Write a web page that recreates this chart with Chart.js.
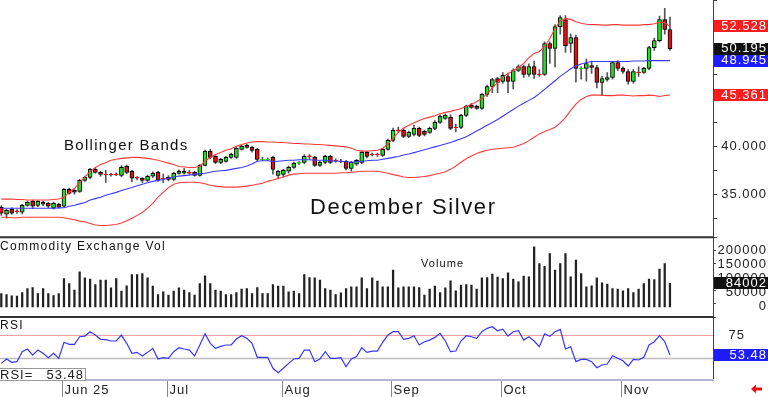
<!DOCTYPE html>
<html><head><meta charset="utf-8">
<script src="https://cdn.jsdelivr.net/npm/chart.js@4.4.1/dist/chart.umd.min.js"></script>
<style>html,body{margin:0;padding:0;background:#fff;overflow:hidden}canvas{display:block}</style>
</head><body>
<canvas id="c" width="768" height="397"></canvas>
<script>
// ---------- data ----------
const monthLabels = ['Jun 25','Jul','Aug','Sep','Oct','Nov'];
const monthStartIdx = [12,32,54,75,96,119];

const opens = [33.65,32.92,33.44,33.28,33.13,33.85,34.27,33.85,34.17,34.06,33.55,33.96,33.75,35.52,35.42,35.31,36.46,36.77,37.60,37.29,37.12,37.12,37.12,36.98,37.92,37.40,36.77,36.67,36.46,36.88,37.29,36.70,36.77,36.56,37.19,37.20,37.29,37.29,36.98,38.02,39.48,38.96,38.33,38.44,38.85,38.85,39.69,40.10,39.90,39.69,38.62,38.62,38.85,36.98,37.08,37.40,37.81,38.23,38.33,39.00,38.85,38.02,38.33,38.96,38.58,38.47,38.44,37.71,38.13,38.33,39.38,39.20,39.20,39.06,39.69,40.63,41.72,41.67,41.04,41.25,41.88,41.56,41.46,41.88,42.50,42.92,43.02,42.00,41.98,43.23,44.27,44.17,43.96,45.42,46.25,47.08,46.77,47.29,46.77,47.92,48.33,47.50,48.33,47.55,47.50,50.73,50.21,52.50,53.23,50.73,51.35,48.10,48.13,48.44,48.23,46.67,46.98,47.19,48.75,48.13,47.81,46.77,47.74,47.71,48.13,50.31,51.04,53.23,52.19];
const highs = [33.80,33.45,33.60,33.40,33.95,34.30,34.40,34.35,34.30,34.15,34.20,34.05,35.60,35.65,35.50,36.55,36.90,37.70,37.75,37.40,37.50,37.20,37.25,38.00,38.05,37.50,36.85,36.75,37.00,37.35,37.40,37.10,36.95,37.30,37.55,37.70,37.50,37.40,38.10,39.60,39.70,39.05,38.75,38.95,39.30,39.90,40.20,40.25,40.00,39.80,38.85,38.80,38.95,37.50,37.60,37.95,38.35,38.45,39.15,39.15,38.95,38.45,39.10,39.10,38.70,38.65,38.55,38.45,38.65,39.50,39.50,39.30,39.30,39.80,40.75,41.90,42.00,41.90,41.60,42.20,42.00,41.70,42.00,42.70,43.30,43.40,43.30,42.30,43.35,44.30,44.50,44.30,45.50,46.40,47.10,47.20,47.70,47.60,48.10,48.50,48.45,48.60,48.90,48.00,50.90,50.90,52.70,53.65,53.65,51.75,51.60,48.30,49.10,48.90,48.45,47.30,47.70,48.85,48.95,48.30,48.00,48.00,48.30,48.25,50.45,51.30,53.60,54.40,53.50];
const lows = [32.80,32.50,32.90,33.00,32.95,33.75,33.50,33.70,33.80,33.60,33.45,33.55,33.65,35.00,35.00,35.20,36.35,36.60,37.20,36.90,36.25,36.90,36.95,36.85,37.15,36.30,36.50,36.20,36.35,36.75,36.35,36.20,36.40,36.40,37.10,37.10,37.10,36.90,36.90,37.95,38.70,38.20,38.20,38.35,38.75,38.75,39.60,39.80,39.40,38.50,38.50,38.50,37.10,36.60,36.80,37.20,37.70,38.10,38.20,38.70,37.90,37.90,38.20,38.20,38.35,38.30,37.55,37.40,38.00,38.20,38.80,39.00,38.95,38.95,39.60,40.50,41.50,40.90,40.90,41.10,41.00,41.10,41.35,41.75,42.40,42.80,41.75,41.50,41.85,43.10,43.95,43.85,43.85,45.20,45.60,45.60,46.60,45.60,46.00,47.80,47.20,47.30,47.10,47.30,47.40,48.65,48.30,51.70,49.80,49.80,46.70,47.00,46.80,47.60,46.10,45.30,46.80,47.00,47.90,47.60,46.50,46.60,47.30,47.60,48.00,50.00,50.90,51.70,50.00];
const closes = [33.02,33.33,33.02,33.18,33.85,34.17,33.75,34.27,33.96,33.75,34.06,33.65,35.52,35.10,35.21,36.46,36.77,37.60,37.29,37.08,37.04,37.04,37.04,37.81,37.29,36.67,36.67,36.46,36.88,37.19,36.46,36.64,36.56,37.19,37.40,37.40,37.19,36.98,38.02,39.48,38.85,38.33,38.65,38.85,39.17,39.79,40.00,39.90,39.58,38.65,38.68,38.68,37.60,37.40,37.50,37.81,38.23,38.33,38.96,38.92,38.02,38.33,38.96,38.33,38.52,38.41,37.71,38.33,38.54,39.38,38.96,39.12,39.12,39.69,40.63,41.67,41.62,41.04,41.46,41.88,41.15,41.25,41.88,42.50,43.13,43.23,41.88,41.96,43.23,44.17,44.06,43.96,45.42,46.25,46.98,46.67,47.40,46.77,47.92,48.33,47.50,48.33,47.50,47.45,50.73,50.21,52.50,53.44,50.52,51.35,48.13,48.16,48.65,48.23,46.67,47.08,47.19,48.75,48.13,47.81,46.77,47.81,47.68,48.13,50.31,51.04,53.23,52.19,50.195];

const bbUpper = [34.5,34.5,34.5,34.45,34.45,34.4,34.4,34.4,34.4,34.4,34.45,34.5,34.7,35.2,35.6,36.25,36.8,37.4,37.8,38.1,38.3,38.55,38.65,38.75,38.8,38.85,38.85,38.8,38.75,38.65,38.55,38.4,38.25,38.1,37.9,37.85,37.8,37.8,37.9,38.45,38.85,39.15,39.35,39.6,39.75,40.0,40.2,40.35,40.45,40.5,40.5,40.45,40.45,40.4,40.4,40.35,40.3,40.3,40.25,40.25,40.2,40.2,40.15,40.1,40.05,40.0,39.95,39.8,39.6,39.5,39.5,39.55,39.6,39.8,40.2,40.85,41.45,41.9,42.2,42.45,42.7,42.9,43.05,43.2,43.4,43.55,43.65,43.8,43.95,44.15,44.4,44.65,45.0,45.5,46.1,46.65,47.2,47.6,47.9,48.25,48.65,49.25,49.7,49.9,50.4,51.25,52.3,53.1,53.35,53.25,53.0,52.85,52.75,52.7,52.7,52.65,52.65,52.7,52.7,52.65,52.65,52.65,52.65,52.7,52.7,52.8,52.95,52.9,52.528];
const bbMid = [33.55,33.55,33.55,33.55,33.55,33.55,33.55,33.55,33.55,33.55,33.55,33.58,33.6,33.75,33.85,34.0,34.15,34.4,34.55,34.7,34.9,35.05,35.2,35.4,35.55,35.7,35.9,36.05,36.2,36.35,36.45,36.55,36.7,36.8,36.9,36.95,37.0,37.1,37.15,37.2,37.3,37.4,37.45,37.5,37.6,37.7,37.8,37.95,38.15,38.45,38.5,38.5,38.45,38.45,38.5,38.55,38.55,38.6,38.6,38.6,38.55,38.55,38.55,38.5,38.45,38.45,38.4,38.35,38.4,38.45,38.5,38.55,38.55,38.65,38.75,38.85,38.95,39.1,39.2,39.35,39.5,39.65,39.8,39.95,40.1,40.25,40.4,40.6,40.8,41.0,41.3,41.6,41.9,42.2,42.5,42.8,43.15,43.5,43.85,44.2,44.5,44.8,45.1,45.5,45.95,46.4,46.85,47.3,47.7,48.1,48.4,48.6,48.75,48.85,48.85,48.85,48.85,48.85,48.85,48.85,48.85,48.9,48.9,48.9,48.95,48.95,48.95,48.95,48.945];
const bbLower = [32.6,32.6,32.55,32.55,32.6,32.6,32.6,32.6,32.6,32.6,32.6,32.6,32.55,32.45,32.35,32.2,32.1,31.95,31.8,31.75,31.75,31.8,31.85,32.0,32.25,32.5,32.8,33.1,33.55,34.05,34.7,35.2,35.7,36.05,36.2,36.25,36.25,36.25,36.2,36.1,35.95,35.85,35.8,35.75,35.75,35.75,35.8,35.85,35.95,36.05,36.15,36.35,36.5,36.65,36.8,37.0,37.1,37.15,37.2,37.2,37.2,37.2,37.2,37.2,37.2,37.25,37.25,37.3,37.35,37.4,37.4,37.4,37.4,37.3,37.2,37.05,36.95,36.8,36.75,36.75,36.8,36.85,36.95,37.1,37.2,37.35,37.6,37.95,38.35,38.7,39.0,39.25,39.45,39.6,39.7,39.75,39.8,39.85,39.9,40.1,40.3,40.6,40.95,41.3,41.55,41.75,42.0,42.45,43.0,43.75,44.4,44.9,45.2,45.35,45.35,45.35,45.3,45.3,45.35,45.35,45.3,45.25,45.3,45.3,45.35,45.3,45.2,45.3,45.361];

const volume = [47700,44200,39400,38200,51300,65600,69200,47700,65600,47700,40600,47700,101300,83500,59600,125100,103700,98900,79900,95300,95300,68000,101300,56100,75100,115600,115600,119200,103700,73900,44200,53700,41800,56100,68000,59600,51300,41800,83500,110800,83500,59600,56100,44200,44200,51300,63200,65600,47700,69200,47700,47700,79900,73900,73900,53700,56100,47700,115600,104900,103700,95300,65600,59600,44200,50100,65600,71500,71500,103700,65600,103700,91800,71500,71500,131100,68000,71500,71500,71500,69200,41800,63200,73900,51300,68000,93000,57200,77500,79900,77500,63200,103700,104900,116800,106100,101300,121500,98900,89400,109600,107200,214400,154900,145300,190600,131100,154900,190600,107200,166800,119200,71500,75100,103700,85800,81100,65600,63200,57200,65600,51300,63200,83500,98900,97700,134600,154900,84002];

const rsi = [44.6,49.3,45.7,46.4,57.1,60.0,53.5,58.9,55.4,50.7,55.4,50.0,67.2,65.0,65.0,73.2,73.9,78.6,75.0,70.4,70.0,68.6,68.6,75.0,66.1,55.4,56.4,52.5,56.4,60.7,49.3,50.7,50.0,57.1,61.4,60.0,58.9,52.5,64.3,76.4,66.1,60.7,62.9,64.3,64.3,70.7,74.3,71.5,66.1,51.1,51.1,51.1,39.3,34.6,39.3,44.6,49.3,50.0,58.9,58.9,46.4,49.3,57.1,50.0,50.0,50.7,41.0,49.3,51.8,61.4,56.4,57.8,57.8,67.2,75.0,78.6,78.6,70.4,71.5,74.3,64.3,67.8,69.6,72.5,76.8,68.6,57.1,57.8,68.6,74.3,73.2,71.5,78.6,82.2,83.9,79.6,81.4,73.9,78.6,79.6,69.6,73.2,68.6,62.5,76.4,73.6,78.6,81.1,60.0,62.5,46.4,48.9,48.9,46.4,39.9,42.8,43.9,52.8,50.0,47.4,41.7,48.9,48.2,51.1,64.3,67.8,74.3,68.0,53.48];
const rsiLevels = [75, 50];

const priceTickLabels = [35, 40];
const volTickLabels = [0, 50000, 100000, 150000, 200000];
const rsiTickLabels = [75];

const chartTitle = 'December Silver';
const bandsTitle = 'Bollinger Bands';
const volTitle = 'Commodity Exchange Vol';
const volSubTitle = 'Volume';
const rsiTitle = 'RSI';

// ---------- build ----------
const idx = closes.map((_, i) => i);
const GREEN = '#22dd22', RED = '#dd1111';
const bodyFill = idx.map(i => closes[i] >= opens[i] ? GREEN : RED);
const bodyBorder = idx.map(i => Math.abs(closes[i] - opens[i]) < 0.12 ? bodyFill[i] : '#000');
const pts = arr => idx.map(i => ({x: i, y: arr[i]}));

const FONT = '"Liberation Sans", Arial, sans-serif';
function txt(ctx, s, x, y, size, color, align, ls) {
  ctx.save();
  ctx.font = size + 'px ' + FONT;
  ctx.fillStyle = color;
  ctx.textAlign = align || 'left';
  ctx.textBaseline = 'middle';
  try { ctx.letterSpacing = (ls || 0) + 'px'; } catch (e) {}
  ctx.fillText(s, x, y);
  ctx.restore();
}

const overlay = {
  id: 'overlay',
  beforeDatasetsDraw(chart) {
    const ctx = chart.ctx, ca = chart.chartArea, yR = chart.scales.yR;
    ctx.save();
    const cols = ['#f2a0a0', '#bdbdbd'];
    rsiLevels.forEach((lv, k) => {
      const y = Math.round(yR.getPixelForValue(lv)) + 0.5;
      ctx.strokeStyle = cols[k]; ctx.lineWidth = k ? 1.5 : 1;
      ctx.beginPath(); ctx.moveTo(ca.left, y); ctx.lineTo(ca.right, y); ctx.stroke();
    });
    ctx.restore();
  },
  afterDraw(chart) {
    const ctx = chart.ctx, ca = chart.chartArea;
    const x = chart.scales.x, yP = chart.scales.yP, yV = chart.scales.yV, yR = chart.scales.yR;
    const last = closes.length - 1;
    ctx.save();
    // panel separators
    ctx.strokeStyle = '#333'; ctx.lineWidth = 2;
    [yV.top, yR.top].forEach(t => { ctx.beginPath(); ctx.moveTo(ca.left, t); ctx.lineTo(ca.right + 1, t); ctx.stroke(); });
    ctx.strokeStyle = '#b4b4d4'; ctx.lineWidth = 2;
    ctx.beginPath(); ctx.moveTo(ca.left, ca.bottom); ctx.lineTo(ca.right + 1, ca.bottom); ctx.stroke();

    // titles
    txt(ctx, bandsTitle, 64, 146, 15, '#111', 'left', 1.3);
    txt(ctx, chartTitle, 310, 208, 22, '#111', 'left', 1.6);
    txt(ctx, volTitle, 0, yV.top + 9, 12, '#111', 'left', 1.3);
    txt(ctx, volSubTitle, 421, yV.top + 27, 11, '#111', 'left', 1.1);
    txt(ctx, rsiTitle, 0, yR.top + 9, 12, '#111', 'left', 1.3);

    // price axis labels
    const RX = 767, BX = ca.right + 1, BW = 768 - BX;
    priceTickLabels.forEach(v => txt(ctx, v.toFixed(3), RX, yP.getPixelForValue(v), 13, '#222', 'right', 1));
    const box = (val, str, color, scale) => {
      const y = scale.getPixelForValue(val);
      ctx.fillStyle = color; ctx.fillRect(BX, Math.round(y) - 6, BW, 12);
      txt(ctx, str, RX, y, 13, '#fff', 'right', 1);
    };
    box(bbUpper[last], bbUpper[last].toFixed(3), '#ff1c1c', yP);
    box(bbLower[last], bbLower[last].toFixed(3), '#ff1c1c', yP);
    box(closes[last], closes[last].toFixed(3), '#111', yP);
    box(bbMid[last], bbMid[last].toFixed(3), '#1c1cff', yP);

    // volume axis labels
    volTickLabels.forEach(v => txt(ctx, String(v), RX, yV.getPixelForValue(v), 13, '#222', 'right', 1));
    box(volume[last], String(volume[last]), '#111', yV);

    // rsi axis labels
    rsiTickLabels.forEach(v => txt(ctx, String(v), 745, yR.getPixelForValue(v), 13, '#222', 'right', 1));
    box(rsi[last], rsi[last].toFixed(2), '#1c1cff', yR);

    // RSI readout box
    ctx.fillStyle = '#fff'; ctx.fillRect(0, ca.bottom - 11, 86, 12);
    ctx.strokeStyle = '#999'; ctx.lineWidth = 1; ctx.strokeRect(-0.5, ca.bottom - 11.5, 86, 12);
    txt(ctx, 'RSI=', 0, ca.bottom - 5, 13, '#222', 'left', 1);
    txt(ctx, rsi[last].toFixed(2), 84, ca.bottom - 5, 13, '#222', 'right', 1);

    // month ticks and labels
    monthStartIdx.forEach((mi, k) => {
      const px = Math.round(x.getPixelForValue(mi) - 0.6) - 0.5;
      ctx.strokeStyle = '#888'; ctx.lineWidth = 1;
      ctx.beginPath(); ctx.moveTo(px, ca.bottom + 1); ctx.lineTo(px, 397); ctx.stroke();
      txt(ctx, monthLabels[k], px + 2, ca.bottom + 10, 13, '#222', 'left', 1);
    });

    // red arrow bottom right
    ctx.fillStyle = '#ee1111';
    ctx.beginPath();
    ctx.moveTo(751, 389); ctx.lineTo(756, 384.5); ctx.lineTo(756, 387.5); ctx.lineTo(762, 387.5);
    ctx.lineTo(762, 390.5); ctx.lineTo(756, 390.5); ctx.lineTo(756, 393.5); ctx.closePath(); ctx.fill();
    ctx.restore();
  }
};

const fixW = s => { s.width = 55; };
new Chart(document.getElementById('c'), {
  type: 'bar',
  data: {
    datasets: [
      {type: 'line', data: pts(bbUpper), yAxisID: 'yP', borderColor: '#ff3a3a', borderWidth: 1.1, pointRadius: 0, order: 0},
      {type: 'line', data: pts(bbMid), yAxisID: 'yP', borderColor: '#3a3aff', borderWidth: 1.1, pointRadius: 0, order: 0},
      {type: 'line', data: pts(bbLower), yAxisID: 'yP', borderColor: '#ff3a3a', borderWidth: 1.1, pointRadius: 0, order: 0},
      {type: 'bar', data: idx.map(i => ({x: i, y: [opens[i], closes[i]]})), yAxisID: 'yP', grouped: false,
        barThickness: 4, backgroundColor: bodyFill, borderColor: bodyBorder, borderWidth: 1, borderSkipped: false, order: 1},
      {type: 'bar', data: idx.map(i => ({x: i, y: [lows[i], highs[i]]})), yAxisID: 'yP', grouped: false,
        barThickness: 1, backgroundColor: '#555', borderWidth: 0, order: 2},
      {type: 'bar', data: pts(volume), yAxisID: 'yV', grouped: false, barThickness: 1.6, backgroundColor: '#222', borderWidth: 0, order: 3},
      {type: 'line', data: pts(rsi), yAxisID: 'yR', borderColor: '#3636ff', borderWidth: 1.2, pointRadius: 0, order: 0}
    ]
  },
  options: {
    responsive: false, animation: false, events: [],
    layout: {padding: {left: 0, right: 0, top: 0, bottom: 17}},
    plugins: {legend: {display: false}, tooltip: {enabled: false}},
    scales: {
      x: {type: 'linear', min: -0.249, max: 136.24, offset: false, display: false},
      yP: {axis: 'y', type: 'linear', position: 'right', stack: 'panes', stackWeight: 237, min: 30.52, max: 55.21,
        afterFit: fixW, border: {display: true, color: '#444', width: 1},
        grid: {drawOnChartArea: false, drawTicks: true, tickLength: 4, color: '#444'},
        ticks: {stepSize: 2.5, callback: () => '', font: {size: 1}, padding: 0}},
      yV: {axis: 'y', type: 'linear', position: 'right', stack: 'panes', stackWeight: 80, min: -36800, max: 249000,
        afterFit: fixW, border: {display: true, color: '#444', width: 1},
        grid: {drawOnChartArea: false, drawTicks: true, tickLength: 3, color: '#444'},
        ticks: {stepSize: 50000, callback: () => '', font: {size: 1}, padding: 0}},
      yR: {axis: 'y', type: 'linear', position: 'right', stack: 'panes', stackWeight: 63, min: 26.7, max: 94.3,
        afterFit: fixW, border: {display: true, color: '#444', width: 1},
        grid: {display: false},
        ticks: {display: false}}
    }
  },
  plugins: [overlay]
});
</script>
</body></html>
